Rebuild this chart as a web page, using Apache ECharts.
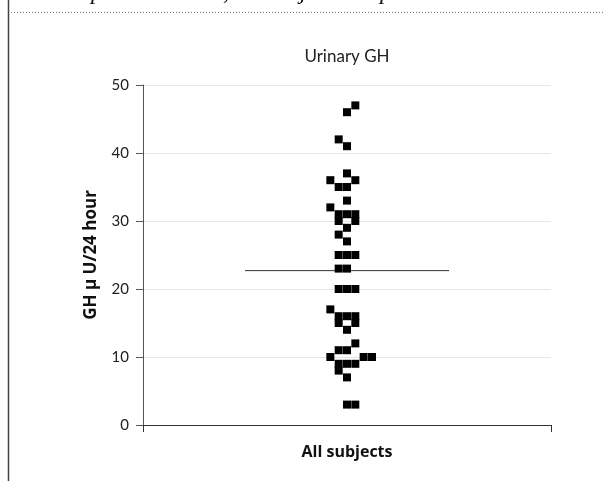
<!DOCTYPE html>
<html>
<head>
<meta charset="utf-8">
<script src="https://cdn.jsdelivr.net/npm/echarts@6/dist/echarts.min.js"></script>
<style>html,body{margin:0;padding:0;background:#fff}#c{width:603px;height:481px}</style>
</head>
<body>
<div id="c"></div>
<script>
var categories = ['All subjects'];
var titleText = 'Urinary GH';
var yAxisName = 'GH \u00b5 U/24 hour';
var yTicks = [0, 10, 20, 30, 40, 50];
// urinary GH values (µU/24 h) and their beeswarm column offsets
var ghValues  = [47,46,42,41,37,36,36,35,35,33,32,31,31,31,30,30,29,28,27,25,25,25,23,23,20,20,20,17,16,16,16,15,15,14,12,11,11,10,10,10,9,9,9,8,7,3,3];
var ghColumns = [ 1, 0,-1, 0, 0,-2, 1,-1, 0, 0,-2,-1, 0, 1,-1, 1, 0,-1, 0,-1, 0, 1,-1, 0,-1, 0, 1,-2,-1, 0, 1,-1, 1, 0, 1,-1, 0,-2, 2, 3,-1,0,1,-1,0,0,1];
var meanValue = 22.7;
var meanHalfWidth = 12.25;

var font = 'Lato, "Open Sans", sans-serif';
var boldFont = '"Open Sans", Lato, sans-serif';
var chart = echarts.init(document.getElementById('c'), null, {renderer: 'canvas'});
var pts = ghValues.map(function (v, i) { return [ghColumns[i], v]; });

chart.setOption({
  animation: false,
  backgroundColor: '#fff',
  grid: {left: 143, right: 52, top: 85, bottom: 56},
  xAxis: [{
    type: 'category', data: categories, boundaryGap: true,
    axisLine: {lineStyle: {color: '#333', width: 1}},
    axisTick: {show: true, length: 7, alignWithLabel: false, lineStyle: {color: '#333'}},
    axisLabel: {margin: 19, fontFamily: boldFont, fontSize: 16, fontWeight: 'bold', color: '#111'}
  }, {
    type: 'value', min: -24.5, max: 24.5, show: false
  }],
  yAxis: {
    type: 'value', min: 0, max: 50, interval: 10,
    name: yAxisName, nameLocation: 'middle', nameGap: 43, nameRotate: 90,
    nameTextStyle: {fontFamily: boldFont, fontSize: 17, fontWeight: 'bold', color: '#111'},
    axisLine: {show: true, onZero: false, lineStyle: {color: '#555', width: 1}},
    axisTick: {show: true, length: 7, lineStyle: {color: '#555'}},
    axisLabel: {margin: 14, fontFamily: font, fontSize: 15, color: '#222',
      formatter: function (v) { return yTicks.indexOf(v) >= 0 ? String(v) : ''; }},
    splitLine: {show: true, lineStyle: {color: '#e6e6e6', width: 1}}
  },
  series: [{
    type: 'scatter', xAxisIndex: 1, data: pts,
    symbol: 'rect', symbolSize: 8,
    itemStyle: {color: '#000', opacity: 1}
  }, {
    type: 'line', xAxisIndex: 1,
    data: [[-meanHalfWidth, meanValue], [meanHalfWidth, meanValue]],
    symbol: 'none', lineStyle: {color: '#333', width: 1}, z: 1
  }],
  graphic: [
    {type: 'text', x: 347, y: 57, style: {text: titleText, align: 'center', verticalAlign: 'middle', font: '17px Lato, sans-serif', fill: '#222'}},
    {type: 'line', shape: {x1: 8.5, y1: 0, x2: 8.5, y2: 481}, style: {stroke: '#444', lineWidth: 1.5}},
    {type: 'line', shape: {x1: 11, y1: 12.5, x2: 603, y2: 12.5}, style: {stroke: '#777', lineWidth: 1, lineDash: [1, 2]}},
    {type: 'text', left: 91, top: -19, style: {text: 'p', font: 'italic 24px "Liberation Serif", serif', fill: '#111'}},
    {type: 'text', left: 223, top: -19, style: {text: ',', font: 'italic 24px "Liberation Serif", serif', fill: '#111'}},
    {type: 'text', left: 300, top: -19, style: {text: 'j', font: 'italic 24px "Liberation Serif", serif', fill: '#111'}},
    {type: 'text', left: 380, top: -19, style: {text: 'p', font: 'italic 24px "Liberation Serif", serif', fill: '#111'}}
  ]
});
</script>
</body>
</html>
